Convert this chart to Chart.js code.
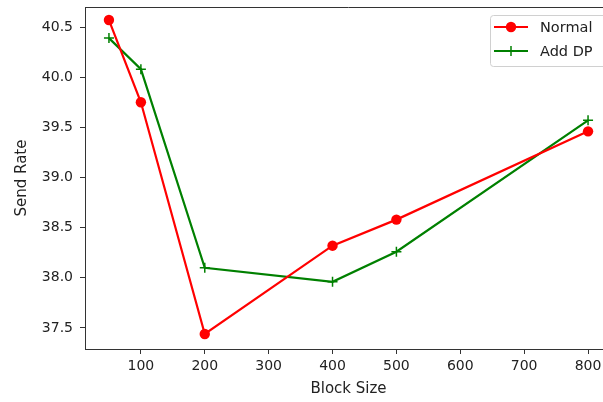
<!DOCTYPE html>
<html>
<head>
<meta charset="utf-8">
<script src="https://cdn.jsdelivr.net/npm/chart.js@4"></script>
<style>
  html, body { margin: 0; padding: 0; background: #fff; overflow: hidden; }
  canvas { display: block; }
</style>
</head>
<body>
<canvas id="lineChart" width="620" height="402"></canvas>
<script>
// data
const blockSizes = [50, 100, 200, 400, 500, 800];
const normalRate = [40.57, 39.75, 37.44, 38.32, 38.58, 39.46];
const addDpRate = [40.39, 40.08, 38.10, 37.96, 38.26, 39.57];
const xTicks = [100, 200, 300, 400, 500, 600, 700, 800];
const yTicks = [37.5, 38.0, 38.5, 39.0, 39.5, 40.0, 40.5];

const FONT = 'DejaVu Sans';
const axisColor = '#333';

const toPoints = (ys) => blockSizes.map((x, i) => ({ x: x, y: ys[i] }));

// keep the plot box fixed: no extra room for edge labels
const noEdgePadding = (s) => {
    s.paddingTop = 0; s.paddingBottom = 0;
    s.paddingLeft = 0; s.paddingRight = 0;
};

// top spine + matplotlib style legend (the right side falls off the 603px window, like the original)
const framePlugin = {
    id: 'frame',
    afterDraw(chart) {
        const { ctx, chartArea: a } = chart;
        ctx.save();
        ctx.strokeStyle = axisColor;
        ctx.lineWidth = 1;
        ctx.beginPath();
        ctx.moveTo(a.left, a.top + 0.5);
        ctx.lineTo(a.right, a.top + 0.5);
        ctx.stroke();

        // legend
        const bx = 490.5, by = 15.5, bw = 118, bh = 51;
        ctx.fillStyle = 'rgba(255,255,255,0.85)';
        ctx.strokeStyle = '#d0d0d0';
        ctx.beginPath();
        ctx.roundRect(bx, by, bw, bh, 3);
        ctx.fill();
        ctx.stroke();
        chart.data.datasets.forEach((ds, i) => {
            const y = 27 + i * 24;
            ctx.strokeStyle = ds.borderColor;
            ctx.lineWidth = 2;
            ctx.beginPath();
            ctx.moveTo(494, y);
            ctx.lineTo(528, y);
            ctx.stroke();
            if (ds.pointStyle === 'circle') {
                ctx.fillStyle = ds.borderColor;
                ctx.beginPath();
                ctx.arc(511, y, 5.2, 0, Math.PI * 2);
                ctx.fill();
            } else {
                ctx.lineWidth = 1.5;
                ctx.beginPath();
                ctx.moveTo(506, y); ctx.lineTo(516, y);
                ctx.moveTo(511, y - 5); ctx.lineTo(511, y + 5);
                ctx.stroke();
            }
            ctx.fillStyle = '#222';
            ctx.font = '14.5px ' + FONT;
            ctx.textBaseline = 'middle';
            ctx.fillText(ds.label, 540, y + 1);
        });
        ctx.restore();
    }
};

const ctx = document.getElementById('lineChart');
new Chart(ctx, {
    type: 'line',
    data: {
        datasets: [{
            label: 'Normal',
            data: toPoints(normalRate),
            borderColor: '#ff0000',
            backgroundColor: '#ff0000',
            borderWidth: 2.2,
            pointStyle: 'circle',
            pointRadius: 5.2,
            pointBorderWidth: 0,
            tension: 0
        }, {
            label: 'Add DP',
            data: toPoints(addDpRate),
            borderColor: '#008000',
            backgroundColor: '#008000',
            borderWidth: 2.2,
            pointStyle: 'cross',
            pointRadius: 5,
            pointBorderWidth: 1.5,
            tension: 0
        }]
    },
    options: {
        responsive: false,
        animation: false,
        layout: { padding: { left: 0, top: 7, right: 8, bottom: 0 } },
        plugins: {
            legend: { display: false },
            tooltip: { enabled: false }
        },
        scales: {
            x: {
                type: 'linear',
                min: 12.5,
                max: 837.5,
                afterBuildTicks: (s) => { s.ticks = xTicks.map(v => ({ value: v })); },
                afterFit: (s) => { s.height = 53; noEdgePadding(s); },
                grid: { drawOnChartArea: false, drawTicks: true, tickLength: 5, color: axisColor },
                border: { display: true, color: axisColor },
                ticks: { color: '#222', padding: 4, maxRotation: 0, font: { family: FONT, size: 14 } },
                title: { display: true, text: 'Block Size', color: '#222', padding: { top: 0, bottom: 4 }, font: { family: FONT, size: 15 } }
            },
            y: {
                type: 'linear',
                min: 37.29,
                max: 40.70,
                afterBuildTicks: (s) => { s.ticks = yTicks.map(v => ({ value: v })); },
                afterFit: (s) => { s.width = 85; noEdgePadding(s); },
                grid: { drawOnChartArea: false, drawTicks: true, tickLength: 5, color: axisColor },
                border: { display: true, color: axisColor },
                ticks: { color: '#222', padding: 7, font: { family: FONT, size: 14 }, callback: (v) => Number(v).toFixed(1) },
                title: { display: true, text: 'Send Rate', color: '#222', padding: { top: 13, bottom: 0 }, font: { family: FONT, size: 15 } }
            }
        }
    },
    plugins: [framePlugin]
});
</script>
</body>
</html>
